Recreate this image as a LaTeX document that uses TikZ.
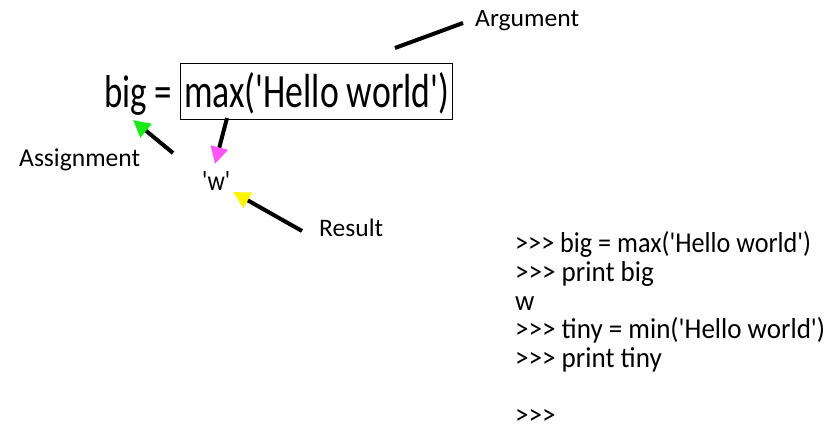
\documentclass[tikz,border=0pt]{standalone}
\usepackage{fontspec}
\setmainfont{Carlito}[Ligatures=TeXOff]
\usetikzlibrary{arrows.meta}
\definecolor{tipgreen}{RGB}{25,235,25}
\definecolor{tippink}{RGB}{255,85,250}
\definecolor{tipyellow}{RGB}{255,245,0}
\newlength\codew
\newlength\codewa
\newlength\codeh
\begin{document}
\settowidth\codew{\fontsize{10pt}{12pt}\selectfont >>> tiny = min('Hello world')}%
\settowidth\codewa{\fontsize{10pt}{12pt}\selectfont >>> big = max('Hello world')}%
\settoheight\codeh{\fontsize{10pt}{12pt}\selectfont b}%
\pgfmathsetmacro\csx{310/\codew}%
\pgfmathsetmacro\csxa{296/\codewa}%
\pgfmathsetmacro\csy{20/\codeh}%
\newcommand\codeline[2][\csx]{\scalebox{#1}[\csy]{\fontsize{10pt}{12pt}\selectfont #2}}%
\begin{tikzpicture}[x=1pt,y=-1pt,
  lbl/.style={inner sep=0pt, anchor=base west},
  pointer/.style={line width=4pt, black},
  ptip/.style={-{Triangle[length=17pt,width=17pt,color=#1]}},
]
\useasboundingbox (0,0) rectangle (840,434);

% main expression
\node[lbl] (big) at (104,107) {\resizebox{68pt}{32pt}{big =}};
\node[draw, line width=1pt, minimum width=272pt, minimum height=56pt, inner sep=0pt] (box) at (316,91) {};
\node[lbl] (call) at (184,107) {\resizebox{265pt}{35pt}{max('Hello world')}};

% labels
\node[lbl] (arg) at (475,26.7) {\resizebox{104pt}{16pt}{Argument}};
\node[lbl] (asg) at (19,166) {\resizebox{121pt}{17.7pt}{Assignment}};
\node[lbl] (w) at (202,190.7) {\resizebox{28pt}{19pt}{'w'}};
\node[lbl] (res) at (319,236) {\resizebox{64pt}{17.5pt}{Result}};

% pointer ends
\coordinate (argtail) at (395,48);
\coordinate (arghead) at (463,23);
\coordinate (gtail) at (173,153);
\coordinate (ghead) at (133,120);
\coordinate (ptail) at (227,118);
\coordinate (phead) at (215,164);
\coordinate (ytail) at (302,231);
\coordinate (yhead) at (233,192);

\draw[pointer] (argtail) -- (arghead);
\draw[pointer, ptip=tipgreen] (gtail) -- (ghead);
\draw[pointer, ptip=tippink] (ptail) -- (phead);
\draw[pointer, ptip=tipyellow] (ytail) -- (yhead);

% interpreter session
\node[lbl] (c1) at (515,252.7) {\codeline[\csxa]{>>> big = max('Hello world')}};
\node[lbl] (c2) at (515,281.3) {\codeline{>>> print big}};
\node[lbl] (c3) at (515,310) {\codeline{w}};
\node[lbl] (c4) at (515,338.7) {\codeline{>>> tiny = min('Hello world')}};
\node[lbl] (c5) at (515,367.3) {\codeline{>>> print tiny}};
\node[lbl] (c7) at (515,424.7) {\codeline{>>>}};
\end{tikzpicture}
\end{document}
